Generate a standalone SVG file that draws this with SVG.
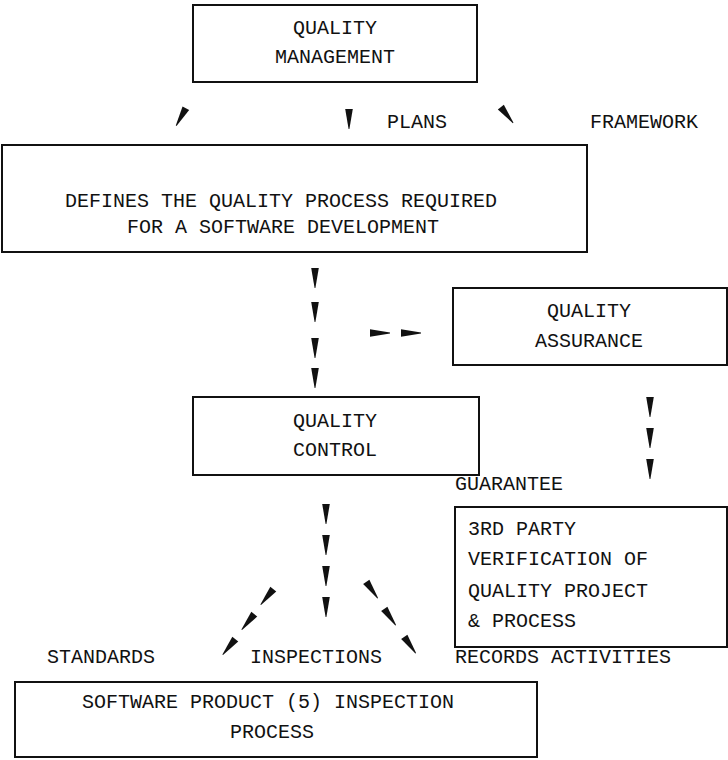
<svg xmlns="http://www.w3.org/2000/svg" width="728" height="760" viewBox="0 0 728 760">
<style>
.box{fill:none;stroke:#111;stroke-width:2}
text{font-family:"Liberation Mono","DejaVu Sans Mono",monospace;font-size:20px;fill:#111}
.ah{fill:#111}
</style>
<defs>
<path id="ah" d="M-3.8,-10 L3.8,-10 L0.4,10 L-0.4,10 Z"/>
</defs>
<rect width="728" height="760" fill="#fff"/>
<g id="quality-management">
<rect class="box" x="193" y="5" width="284" height="77"/>
<text x="293" y="34">QUALITY</text>
<text x="275" y="63">MANAGEMENT</text>
</g>
<g id="defines">
<rect class="box" x="2" y="145" width="585" height="107"/>
<text x="65" y="207">DEFINES THE QUALITY PROCESS REQUIRED</text>
<text x="127" y="233">FOR A SOFTWARE DEVELOPMENT</text>
</g>
<g id="quality-assurance">
<rect class="box" x="453" y="288" width="274" height="77"/>
<text x="547" y="317">QUALITY</text>
<text x="535" y="347">ASSURANCE</text>
</g>
<g id="quality-control">
<rect class="box" x="193" y="397" width="286" height="78"/>
<text x="293" y="427">QUALITY</text>
<text x="293" y="456">CONTROL</text>
</g>
<g id="third-party">
<rect class="box" x="455" y="507" width="272" height="140"/>
<text x="468" y="535">3RD PARTY</text>
<text x="468" y="565">VERIFICATION OF</text>
<text x="468" y="597">QUALITY PROJECT</text>
<text x="468" y="627">&amp; PROCESS</text>
</g>
<g id="inspection-process">
<rect class="box" x="15" y="682" width="522" height="75"/>
<text x="82" y="708">SOFTWARE PRODUCT (5) INSPECTION</text>
<text x="230" y="738">PROCESS</text>
</g>
<g id="labels">
<text x="387" y="128">PLANS</text>
<text x="590" y="128">FRAMEWORK</text>
<text x="455" y="490">GUARANTEE</text>
<text x="47" y="663">STANDARDS</text>
<text x="250" y="663">INSPECTIONS</text>
<text x="455" y="663">RECORDS ACTIVITIES</text>
</g>
<g id="connectors" class="ah">
<use href="#ah" transform="translate(181,117) rotate(29)"/>
<use href="#ah" transform="translate(349,119)"/>
<use href="#ah" transform="translate(507,115) rotate(-38)"/>
<use href="#ah" transform="translate(315,278)"/>
<use href="#ah" transform="translate(315,312)"/>
<use href="#ah" transform="translate(315,348)"/>
<use href="#ah" transform="translate(315,378)"/>
<use href="#ah" transform="translate(380,333) rotate(-90)"/>
<use href="#ah" transform="translate(411,333) rotate(-90)"/>
<use href="#ah" transform="translate(650,407)"/>
<use href="#ah" transform="translate(650,438)"/>
<use href="#ah" transform="translate(650,469)"/>
<use href="#ah" transform="translate(326,514)"/>
<use href="#ah" transform="translate(326,545)"/>
<use href="#ah" transform="translate(326,576)"/>
<use href="#ah" transform="translate(326,607)"/>
<use href="#ah" transform="translate(267,597) rotate(39)"/>
<use href="#ah" transform="translate(248,622) rotate(39)"/>
<use href="#ah" transform="translate(229,647) rotate(39)"/>
<use href="#ah" transform="translate(372,590) rotate(-35)"/>
<use href="#ah" transform="translate(390,617) rotate(-35)"/>
<use href="#ah" transform="translate(410,645) rotate(-35)"/>
</g>
</svg>
